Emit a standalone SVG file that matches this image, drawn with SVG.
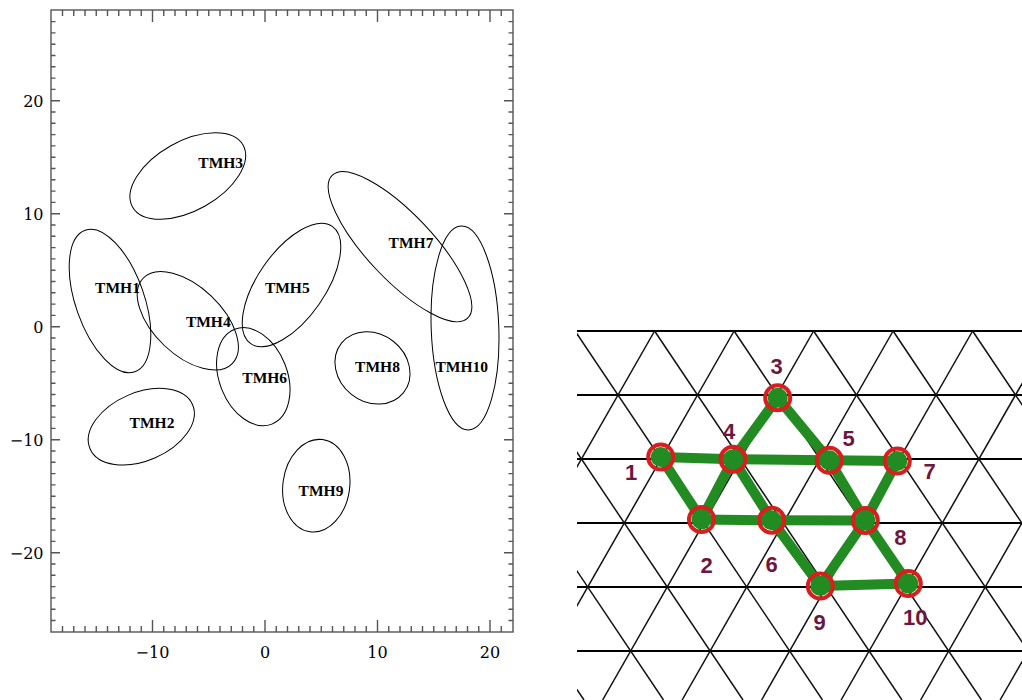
<svg xmlns="http://www.w3.org/2000/svg" xmlns:xlink="http://www.w3.org/1999/xlink" width="1022" height="700" viewBox="0 0 1022 700">
<style>
.axis{fill:none;stroke:#555;stroke-width:1.4}
.ell{fill:none;stroke:#000;stroke-width:1}
.lab{font-family:"Liberation Serif",serif;font-weight:bold;font-size:15.5px;fill:#000;text-anchor:middle}
.tick{font-family:"DejaVu Serif",serif;font-size:16px;fill:#000}
.hl{stroke:#000;stroke-width:2}
.dl{stroke:#111;stroke-width:1.5}
.edge{stroke:#228b22;stroke-width:10;stroke-linecap:round}
.dot{fill:#228b22}
.ring{fill:none;stroke:#d81e1e;stroke-width:4}
.num{font-family:"Liberation Sans",Arial,sans-serif;font-weight:bold;font-size:22px;fill:#6b1840;text-anchor:middle}
</style>
<defs>
<path id="xminor" d="M62.5 632v-6M73.75 632v-6M85 632v-6M96.25 632v-6M107.5 632v-6M118.75 632v-6M130 632v-6M141.25 632v-6M163.75 632v-6M175 632v-6M186.25 632v-6M197.5 632v-6M208.75 632v-6M220 632v-6M231.25 632v-6M242.5 632v-6M253.75 632v-6M276.25 632v-6M287.5 632v-6M298.75 632v-6M310 632v-6M321.25 632v-6M332.5 632v-6M343.75 632v-6M355 632v-6M366.25 632v-6M388.75 632v-6M400 632v-6M411.25 632v-6M422.5 632v-6M433.75 632v-6M445 632v-6M456.25 632v-6M467.5 632v-6M478.75 632v-6M501.25 632v-6M152.5 632v-12M265 632v-12M377.5 632v-12M490 632v-12"/>
<path id="yminor" d="M51 21.6h4.5M51 32.9h4.5M51 44.2h4.5M51 55.5h4.5M51 66.8h4.5M51 78.1h4.5M51 89.4h4.5M51 112h4.5M51 123.3h4.5M51 134.6h4.5M51 145.9h4.5M51 157.2h4.5M51 168.5h4.5M51 179.8h4.5M51 191.1h4.5M51 202.4h4.5M51 225h4.5M51 236.3h4.5M51 247.6h4.5M51 258.9h4.5M51 270.2h4.5M51 281.5h4.5M51 292.8h4.5M51 304.1h4.5M51 315.4h4.5M51 338h4.5M51 349.3h4.5M51 360.6h4.5M51 371.9h4.5M51 383.2h4.5M51 394.5h4.5M51 405.8h4.5M51 417.1h4.5M51 428.4h4.5M51 451h4.5M51 462.3h4.5M51 473.6h4.5M51 484.9h4.5M51 496.2h4.5M51 507.5h4.5M51 518.8h4.5M51 530.1h4.5M51 541.4h4.5M51 564h4.5M51 575.3h4.5M51 586.6h4.5M51 597.9h4.5M51 609.2h4.5M51 620.5h4.5M51 100.7h9M51 213.7h9M51 326.7h9M51 439.7h9M51 552.7h9"/>
<clipPath id="imgclip"><rect x="577" y="330" width="445" height="370"/></clipPath>
</defs>
<rect width="1022" height="700" fill="#fff"/>

<g id="axes">
<rect class="axis" x="51" y="10" width="462" height="622"/>
<use xlink:href="#xminor" class="axis"/>
<use xlink:href="#xminor" class="axis" transform="matrix(1 0 0 -1 0 642)"/>
<use xlink:href="#yminor" class="axis"/>
<use xlink:href="#yminor" class="axis" transform="matrix(-1 0 0 1 564 0)"/>
<g class="tick" text-anchor="end">
<text x="43.5" y="106.5">20</text>
<text x="43.5" y="219.5">10</text>
<text x="43.5" y="332.5">0</text>
<text x="43.5" y="445.5">−10</text>
<text x="43.5" y="558.5">−20</text>
</g>
<g class="tick" text-anchor="middle">
<text x="152.5" y="657.5">−10</text>
<text x="265" y="657.5">0</text>
<text x="377.5" y="657.5">10</text>
<text x="490" y="657.5">20</text>
</g>
</g>

<g id="TMH1"><ellipse class="ell" cx="110" cy="301" rx="75" ry="34.3" transform="rotate(70.7 110 301)"/><text class="lab" x="117.5" y="292.7">TMH1</text></g>
<g id="TMH2"><ellipse class="ell" cx="141.3" cy="426.7" rx="55.8" ry="34.1" transform="rotate(-23.2 141.3 426.7)"/><text class="lab" x="152" y="428.3">TMH2</text></g>
<g id="TMH3"><ellipse class="ell" cx="187.8" cy="176" rx="63.3" ry="34.7" transform="rotate(-29.2 187.8 176)"/><text class="lab" x="220.7" y="168.3">TMH3</text></g>
<g id="TMH4"><ellipse class="ell" cx="187.8" cy="320.8" rx="61.7" ry="34.1" transform="rotate(43.6 187.8 320.8)"/><text class="lab" x="208.3" y="326.7">TMH4</text></g>
<g id="TMH5"><ellipse class="ell" cx="291.5" cy="285" rx="71.4" ry="33.6" transform="rotate(-55.2 291.5 285)"/><text class="lab" x="287.3" y="292.7">TMH5</text></g>
<g id="TMH6"><ellipse class="ell" cx="253.3" cy="376.7" rx="50.9" ry="34" transform="rotate(68.6 253.3 376.7)"/><text class="lab" x="264.7" y="383.3">TMH6</text></g>
<g id="TMH7"><ellipse class="ell" cx="400" cy="246.7" rx="98.4" ry="32.8" transform="rotate(46.6 400 246.7)"/><text class="lab" x="411" y="247.7">TMH7</text></g>
<g id="TMH8"><ellipse class="ell" cx="372.5" cy="367.9" rx="39.7" ry="33.8" transform="rotate(38.6 372.5 367.9)"/><text class="lab" x="377.5" y="371.7">TMH8</text></g>
<g id="TMH9"><ellipse class="ell" cx="316.3" cy="485.7" rx="46.5" ry="33.4" transform="rotate(-82.3 316.3 485.7)"/><text class="lab" x="321" y="495.7">TMH9</text></g>
<g id="TMH10"><ellipse class="ell" cx="465" cy="328" rx="102" ry="33.8" transform="rotate(87.9 465 328)"/><text class="lab" x="461.7" y="371.7">TMH10</text></g>

<g id="lattice" clip-path="url(#imgclip)">
<g class="hl">
<line x1="577" y1="331" x2="1022" y2="331"/>
<line x1="577" y1="395" x2="1022" y2="395"/>
<line x1="577" y1="459" x2="1022" y2="459"/>
<line x1="577" y1="523" x2="1022" y2="523"/>
<line x1="577" y1="587" x2="1022" y2="587"/>
<line x1="577" y1="651" x2="1022" y2="651"/>
</g>
<g class="dl">
<line x1="654.6" y1="331" x2="443.6" y2="700"/>
<line x1="734.1" y1="331" x2="523.1" y2="700"/>
<line x1="813.6" y1="331" x2="602.6" y2="700"/>
<line x1="893.1" y1="331" x2="682.1" y2="700"/>
<line x1="972.6" y1="331" x2="761.6" y2="700"/>
<line x1="1052.1" y1="331" x2="841.1" y2="700"/>
<line x1="1131.6" y1="331" x2="920.6" y2="700"/>
<line x1="1211.1" y1="331" x2="1000.1" y2="700"/>
<line x1="336.6" y1="331" x2="584" y2="700"/>
<line x1="416.1" y1="331" x2="663.5" y2="700"/>
<line x1="495.6" y1="331" x2="743" y2="700"/>
<line x1="575.1" y1="331" x2="822.5" y2="700"/>
<line x1="654.6" y1="331" x2="902" y2="700"/>
<line x1="734.1" y1="331" x2="981.5" y2="700"/>
<line x1="813.6" y1="331" x2="1061" y2="700"/>
<line x1="893.1" y1="331" x2="1140.5" y2="700"/>
<line x1="972.6" y1="331" x2="1220" y2="700"/>
</g>
</g>

<g id="connectors" class="edge">
<line x1="660.7" y1="457" x2="733" y2="459.3"/>
<line x1="733" y1="459.3" x2="829.3" y2="460.3"/>
<line x1="829.3" y1="460.3" x2="897.3" y2="461"/>
<line x1="660.7" y1="457" x2="701.5" y2="519.5"/>
<line x1="701.5" y1="519.5" x2="733" y2="459.3"/>
<line x1="733" y1="459.3" x2="777.7" y2="397.7"/>
<line x1="777.7" y1="397.7" x2="829.3" y2="460.3"/>
<line x1="829.3" y1="460.3" x2="865.3" y2="520.5"/>
<line x1="865.3" y1="520.5" x2="908.3" y2="583.5"/>
<line x1="733" y1="459.3" x2="771.7" y2="520.3"/>
<line x1="771.7" y1="520.3" x2="820.3" y2="586"/>
<line x1="701.5" y1="519.5" x2="771.7" y2="520.3"/>
<line x1="771.7" y1="520.3" x2="865.3" y2="520.5"/>
<line x1="897.3" y1="461" x2="865.3" y2="520.5"/>
<line x1="865.3" y1="520.5" x2="820.3" y2="586"/>
<line x1="820.3" y1="586" x2="908.3" y2="583.5"/>
</g>

<g id="n1"><circle class="dot" cx="660.7" cy="457" r="10"/><circle class="ring" cx="660.7" cy="457" r="12.5"/><text class="num" x="631" y="480">1</text></g>
<g id="n2"><circle class="dot" cx="701.5" cy="519.5" r="10"/><circle class="ring" cx="701.5" cy="519.5" r="12.5"/><text class="num" x="706.7" y="573">2</text></g>
<g id="n3"><circle class="dot" cx="777.7" cy="397.7" r="10"/><circle class="ring" cx="777.7" cy="397.7" r="12.5"/><text class="num" x="776.7" y="373.7">3</text></g>
<g id="n4"><circle class="dot" cx="733" cy="459.3" r="10"/><circle class="ring" cx="733" cy="459.3" r="12.5"/><text class="num" x="729" y="439">4</text></g>
<g id="n5"><circle class="dot" cx="829.3" cy="460.3" r="10"/><circle class="ring" cx="829.3" cy="460.3" r="12.5"/><text class="num" x="848.7" y="445.7">5</text></g>
<g id="n6"><circle class="dot" cx="771.7" cy="520.3" r="10"/><circle class="ring" cx="771.7" cy="520.3" r="12.5"/><text class="num" x="771.7" y="572">6</text></g>
<g id="n7"><circle class="dot" cx="897.3" cy="461" r="10"/><circle class="ring" cx="897.3" cy="461" r="12.5"/><text class="num" x="929.7" y="479">7</text></g>
<g id="n8"><circle class="dot" cx="865.3" cy="520.5" r="10"/><circle class="ring" cx="865.3" cy="520.5" r="12.5"/><text class="num" x="900.3" y="544.7">8</text></g>
<g id="n9"><circle class="dot" cx="820.3" cy="586" r="10"/><circle class="ring" cx="820.3" cy="586" r="12.5"/><text class="num" x="819.7" y="629.7">9</text></g>
<g id="n10"><circle class="dot" cx="908.3" cy="583.5" r="10"/><circle class="ring" cx="908.3" cy="583.5" r="12.5"/><text class="num" x="915.3" y="625.3">10</text></g>
</svg>
